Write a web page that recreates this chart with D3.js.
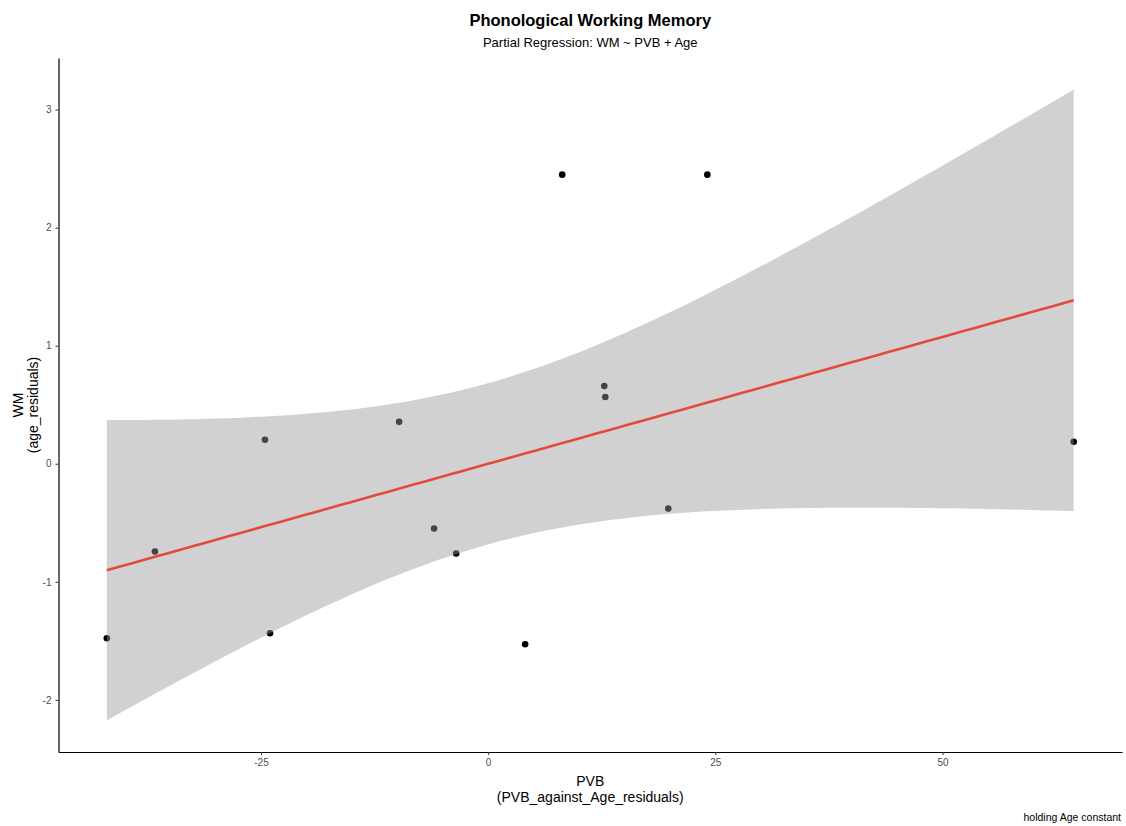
<!DOCTYPE html>
<html>
<head>
<meta charset="utf-8">
<script src="https://cdn.jsdelivr.net/npm/d3@7"></script>
<style>
  body { margin: 0; background: #fff; }
  svg { font-family: "Liberation Sans", Arial, Helvetica, sans-serif; }
</style>
</head>
<body>
<div class="chart"></div>
<script>
// DATA ------------------------------------

const pvb = [-41.96, -36.67, -24.56, -24.0, -9.80, -5.95, -3.52, 4.07, 8.15, 12.78, 12.89, 19.82, 24.12, 64.43];
const wm  = [-1.478, -0.743, 0.203, -1.436, 0.355, -0.549, -0.760, -1.529, 2.449, 0.659, 0.566, -0.380, 2.449, 0.186];

const xTicks = [-25, 0, 25, 50];
const yTicks = [-2, -1, 0, 1, 2, 3];

const tCrit = 2.1788; // qt(0.975, df = 12)

// CHART INIT ------------------------------

const W = 1126, H = 826;
const margin = ({top: 58, right: 4, bottom: 74, left: 58.5});

const svg = d3.select(".chart").append("svg")
    .attr("width", W)
    .attr("height", H);

const data = pvb.map((x, i) => ({x: x, y: wm[i]}));

// linear fit + 95% confidence band (like geom_smooth(method = "lm"))
const n = data.length;
const mx = d3.mean(pvb), my = d3.mean(wm);
const sxx = d3.sum(pvb, x => (x - mx) * (x - mx));
const sxy = d3.sum(data, d => (d.x - mx) * (d.y - my));
const slope = sxy / sxx, icept = my - slope * mx;
const rss = d3.sum(data, d => Math.pow(d.y - (icept + slope * d.x), 2));
const s = Math.sqrt(rss / (n - 2));

const xmin = d3.min(pvb), xmax = d3.max(pvb);
const fit = d3.range(80).map(i => {
    const x = xmin + (xmax - xmin) * i / 79;
    const yhat = icept + slope * x;
    const se = s * Math.sqrt(1 / n + (x - mx) * (x - mx) / sxx);
    return {x: x, y: yhat, lo: yhat - tCrit * se, hi: yhat + tCrit * se};
});

function expand(ext) {
    const d = (ext[1] - ext[0]) * 0.05;
    return [ext[0] - d, ext[1] + d];
}

const xScale = d3.scaleLinear()
    .domain(expand(d3.extent(pvb)))
    .range([margin.left, W - margin.right]);

const yScale = d3.scaleLinear()
    .domain(expand([d3.min([d3.min(wm), d3.min(fit, d => d.lo)]),
                    d3.max([d3.max(wm), d3.max(fit, d => d.hi)])]))
    .range([H - margin.bottom, margin.top]);

// points go under the ribbon, as in the original
svg.append("g").selectAll("circle")
    .data(data)
    .join("circle")
    .attr("cx", d => xScale(d.x))
    .attr("cy", d => yScale(d.y))
    .attr("r", 3.3)
    .attr("fill", "#000");

svg.append("path")
    .datum(fit)
    .attr("fill", "#999999")
    .attr("fill-opacity", 0.45)
    .attr("d", d3.area()
        .x(d => xScale(d.x))
        .y0(d => yScale(d.lo))
        .y1(d => yScale(d.hi)));

svg.append("path")
    .datum(fit)
    .attr("fill", "none")
    .attr("stroke", "#e34a3b")
    .attr("stroke-width", 2.6)
    .attr("d", d3.line()
        .x(d => xScale(d.x))
        .y(d => yScale(d.y)));

// AXES ------------------------------------

const plain = d => String(d); // hyphen minus, no decimals

const xAxis = svg.append("g")
    .attr("transform", "translate(0," + (H - margin.bottom) + ")")
    .call(d3.axisBottom(xScale).tickValues(xTicks).tickFormat(plain)
        .tickSize(3).tickPadding(4).tickSizeOuter(0));

const yAxis = svg.append("g")
    .attr("transform", "translate(" + margin.left + ",0)")
    .call(d3.axisLeft(yScale).tickValues(yTicks).tickFormat(plain)
        .tickSize(3).tickPadding(4).tickSizeOuter(0));

[xAxis, yAxis].forEach(a => {
    a.select(".domain").attr("stroke", "#000").attr("stroke-width", 1.2);
    a.selectAll(".tick line").attr("stroke", "#333");
    a.selectAll(".tick text")
        .attr("fill", "#4d4d4d")
        .style("font-size", "10px")
        .style("font-family", "'Liberation Sans', Arial, sans-serif");
});

// TITLES ----------------------------------

const cx = (margin.left + W - margin.right) / 2;
const cy = (margin.top + H - margin.bottom) / 2;

svg.append("text")
    .attr("x", cx).attr("y", 26)
    .attr("text-anchor", "middle")
    .style("font-size", "16.5px").style("font-weight", "bold")
    .text("Phonological Working Memory");

svg.append("text")
    .attr("x", cx).attr("y", 47)
    .attr("text-anchor", "middle")
    .style("font-size", "13px")
    .text("Partial Regression: WM ~ PVB + Age");

svg.append("text")
    .attr("x", cx).attr("y", 786)
    .attr("text-anchor", "middle")
    .style("font-size", "14px")
    .text("PVB");

svg.append("text")
    .attr("x", cx).attr("y", 802)
    .attr("text-anchor", "middle")
    .style("font-size", "14px")
    .text("(PVB_against_Age_residuals)");

svg.append("text")
    .attr("transform", "translate(23," + cy + ") rotate(-90)")
    .attr("text-anchor", "middle")
    .style("font-size", "14px")
    .text("WM");

svg.append("text")
    .attr("transform", "translate(38," + cy + ") rotate(-90)")
    .attr("text-anchor", "middle")
    .style("font-size", "14px")
    .text("(age_residuals)");

svg.append("text")
    .attr("x", 1121).attr("y", 821)
    .attr("text-anchor", "end")
    .style("font-size", "10.5px")
    .text("holding Age constant");
</script>
</body>
</html>
